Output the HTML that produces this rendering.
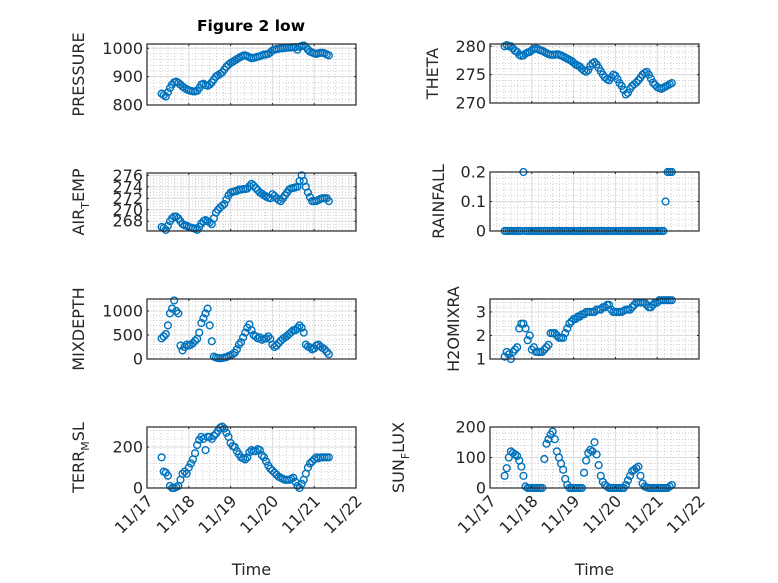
<!DOCTYPE html>
<html><head><meta charset="utf-8"><style>
html,body{margin:0;padding:0;background:#fff;}
svg{display:block;font-family:"DejaVu Sans","Liberation Sans",sans-serif;}
</style></head><body>
<svg id="fig" width="778" height="583" viewBox="0 0 778 583" xmlns="http://www.w3.org/2000/svg">
<rect width="778" height="583" fill="#fff"/>
<text x="251" y="31" text-anchor="middle" font-size="15.5" font-weight="bold" fill="#000">Figure 2 low</text>
</svg>
<script>
const times = [17.35,17.40,17.45,17.50,17.55,17.60,17.65,17.70,17.75,17.80,17.85,17.90,17.95,18.00,18.05,18.10,18.15,18.20,18.25,18.30,18.35,18.40,18.45,18.50,18.55,18.60,18.65,18.70,18.75,18.80,18.85,18.90,18.95,19.00,19.05,19.10,19.15,19.20,19.25,19.30,19.35,19.40,19.45,19.50,19.55,19.60,19.65,19.70,19.75,19.80,19.85,19.90,19.95,20.00,20.05,20.10,20.15,20.20,20.25,20.30,20.35,20.40,20.45,20.50,20.55,20.60,20.65,20.70,20.75,20.80,20.85,20.90,20.95,21.00,21.05,21.10,21.15,21.20,21.25,21.30,21.35];
const pressure = [840,835,830,845,860,872,880,882,878,872,865,860,855,852,850,848,848,850,860,872,875,870,868,872,880,890,900,905,910,915,925,935,942,948,952,957,962,966,970,974,975,972,968,965,966,968,970,972,975,978,978,980,985,992,995,997,998,1000,1000,1001,1002,1002,1003,1003,1004,995,1005,1008,1010,1005,995,988,985,982,980,982,984,984,982,978,975];
const theta = [280,280.2,280,280,279.6,279.2,279,278.5,278.3,278.4,278.7,278.9,279,279.3,279.5,279.6,279.5,279.3,279.2,279,278.8,278.6,278.5,278.5,278.5,278.6,278.5,278.4,278.2,278,277.8,277.6,277.4,277.1,276.8,276.6,276.4,276,275.7,275.5,275.8,276.5,277,277.2,276.8,276.2,275.6,275,274.5,274.2,274,274.5,275,274.8,274.2,273.5,273,272.3,271.5,271.8,272.5,273,273.3,273.6,274,274.5,275,275.3,275.5,275,274.3,273.6,273.2,272.8,272.6,272.5,272.7,272.9,273.1,273.3,273.5];
const airTemp = [267,266.8,266.5,267.2,268,268.5,268.8,268.8,268.5,268,267.5,267.3,267.2,267,266.9,266.8,266.7,266.5,267,267.6,268,268.2,268,267.8,267.5,268.5,269.5,270,270.4,270.7,271,271.8,272.5,273,273.1,273.2,273.3,273.5,273.5,273.6,273.6,273.7,274.1,274.5,274.2,273.8,273.4,273,272.8,272.5,272.3,272.1,272,272.7,272.4,272,271.7,271.5,272,272.5,273,273.5,273.7,273.8,273.9,274,275,276,275,274,273,272.2,271.5,271.5,271.5,271.7,271.9,272,272,272,271.5];
const rainfall = [0,0,0,0,0,0,0,0,0,0.2,0,0,0,0,0,0,0,0,0,0,0,0,0,0,0,0,0,0,0,0,0,0,0,0,0,0,0,0,0,0,0,0,0,0,0,0,0,0,0,0,0,0,0,0,0,0,0,0,0,0,0,0,0,0,0,0,0,0,0,0,0,0,0,0,0,0,0,0.1,0.2,0.2,0.2];
const mixDepth = [430,470,520,700,950,1050,1220,1000,950,280,180,250,300,280,300,330,380,420,550,750,850,950,1050,700,370,50,30,20,15,20,30,40,60,80,100,130,200,300,350,450,550,650,720,600,500,470,430,450,400,420,430,470,420,300,250,280,330,380,420,450,480,520,560,600,600,650,700,650,550,300,260,240,200,220,280,300,260,230,200,150,100];
const h2oMix = [1.1,1.3,1.2,1.0,1.3,1.4,1.5,2.3,2.5,2.5,2.3,1.8,2.0,1.4,1.5,1.3,1.3,1.3,1.3,1.4,1.5,1.6,2.1,2.1,2.1,2.0,1.9,1.9,1.9,2.1,2.3,2.5,2.6,2.7,2.7,2.8,2.8,2.9,2.9,3.0,3.0,3.0,3.0,3.0,3.1,3.1,3.1,3.2,3.2,3.3,3.3,3.1,3.0,3.0,3.0,3.0,3.0,3.05,3.1,3.1,3.1,3.2,3.3,3.4,3.4,3.4,3.4,3.4,3.3,3.2,3.2,3.3,3.4,3.4,3.5,3.5,3.5,3.5,3.5,3.5,3.5];
const terrMsl = [150,80,75,60,10,0,0,5,10,40,70,80,70,100,120,140,170,210,235,250,240,185,250,250,240,255,265,280,295,300,290,270,250,220,205,200,180,165,150,145,140,150,175,185,180,180,190,185,160,150,130,110,95,85,75,65,55,50,45,40,40,40,45,50,30,10,0,20,40,70,100,120,130,140,150,145,150,150,150,150,150];
const sunFlux = [40,65,100,120,115,110,105,90,70,40,5,0,0,0,0,0,0,0,0,95,145,160,175,185,160,120,100,80,60,30,10,0,0,0,0,0,0,0,50,90,115,125,120,150,110,75,40,20,10,5,0,0,0,0,0,0,0,0,10,25,40,55,60,65,70,40,15,5,2,0,0,0,0,0,0,0,0,0,0,5,10];
const xTickLabels = ["11/17","11/18","11/19","11/20","11/21","11/22"];
const xTickValues = [17,18,19,20,21,22];

const NS="http://www.w3.org/2000/svg";
const svg=document.getElementById('fig');
function mk(tag,attrs,parent){const e=document.createElementNS(NS,tag);for(const k in attrs)e.setAttribute(k,attrs[k]);(parent||svg).appendChild(e);return e;}

const panels=[
 {key:'pressure',data:pressure,x0:147,x1:356,y0:44,y1:105,ymin:800,ymax:1015,ticks:[800,900,1000],minor:5,label:['PRESSURE'],lx:84},
 {key:'theta',data:theta,x0:490,x1:699,y0:44,y1:103,ymin:270,ymax:280.4,ticks:[270,275,280],minor:5,label:['THETA'],lx:438},
 {key:'air-temp',data:airTemp,x0:147,x1:356,y0:173,y1:231,ymin:266.3,ymax:276.4,ticks:[268,270,272,274,276],minor:4,label:['AIR','T','EMP'],lx:84},
 {key:'rainfall',data:rainfall,x0:490,x1:699,y0:172,y1:231,ymin:0,ymax:0.2,ticks:[0,0.1,0.2],minor:5,label:['RAINFALL'],lx:444,fmt:v=>v===0?'0':v.toFixed(1)},
 {key:'mixdepth',data:mixDepth,x0:147,x1:356,y0:299,y1:359,ymin:0,ymax:1250,ticks:[0,500,1000],minor:5,label:['MIXDEPTH'],lx:84},
 {key:'h2omixra',data:h2oMix,x0:490,x1:699,y0:299,y1:359,ymin:1,ymax:3.55,ticks:[1,2,3],minor:5,label:['H2OMIXRA'],lx:459},
 {key:'terr-msl',data:terrMsl,x0:147,x1:356,y0:427,y1:488,ymin:0,ymax:298,ticks:[0,200],minor:5,label:['TERR','M','SL'],lx:84},
 {key:'sun-flux',data:sunFlux,x0:490,x1:699,y0:427,y1:488,ymin:0,ymax:200,ticks:[0,100,200],minor:5,label:['SUN','F','LUX'],lx:404}
];

panels.forEach((p,pi)=>{
 const g=mk('g',{});
 
 
 const xs=v=>p.x0+(v-17)/5*(p.x1-p.x0);
 const ys=v=>p.y1-(v-p.ymin)/(p.ymax-p.ymin)*(p.y1-p.y0);
 mk('rect',{x:p.x0,y:p.y0,width:p.x1-p.x0,height:p.y1-p.y0,fill:'#fff'},g);
 for(let d=17;d<22;d++){for(let k=1;k<6;k++){const x=xs(d+k/6);mk('line',{x1:x,x2:x,y1:p.y0,y2:p.y1,stroke:'#b0b0b0','stroke-width':0.6,'stroke-dasharray':'1 2'},g);}}
 const step=p.ticks.length>1?p.ticks[1]-p.ticks[0]:1;
 for(let v=p.ticks[0]-step;v<=p.ymax+step;v+=step/p.minor){
   if(v<=p.ymin+1e-9||v>=p.ymax-1e-9)continue;
   const y=ys(v);mk('line',{x1:p.x0,x2:p.x1,y1:y,y2:y,stroke:'#b0b0b0','stroke-width':0.6,'stroke-dasharray':'1 2'},g);
 }
 xTickValues.forEach(v=>{const x=xs(v);mk('line',{x1:x,x2:x,y1:p.y0,y2:p.y1,stroke:'#dcdcdc','stroke-width':1},g);});
 p.ticks.forEach(v=>{const y=ys(v);mk('line',{x1:p.x0,x2:p.x1,y1:y,y2:y,stroke:'#dcdcdc','stroke-width':1},g);});
 p.data.forEach((v,i)=>{
   const c=mk('circle',{cx:xs(times[i]).toFixed(2),cy:ys(v).toFixed(2),r:3.4,fill:'none',stroke:'#0072BD','stroke-width':1.4},g);
   
   
 });
 mk('rect',{x:p.x0,y:p.y0,width:p.x1-p.x0,height:p.y1-p.y0,fill:'none',stroke:'#262626','stroke-width':1.2},g);
 xTickValues.forEach(v=>{const x=xs(v);mk('line',{x1:x,x2:x,y1:p.y1,y2:p.y1-2,stroke:'#262626'},g);mk('line',{x1:x,x2:x,y1:p.y0,y2:p.y0+2,stroke:'#262626'},g);});
 p.ticks.forEach(v=>{
   const y=ys(v);
   mk('line',{x1:p.x0,x2:p.x0+2,y1:y,y2:y,stroke:'#262626'},g);
   mk('line',{x1:p.x1,x2:p.x1-2,y1:y,y2:y,stroke:'#262626'},g);
   const t=mk('text',{x:p.x0-4,y:y+5.5,'text-anchor':'end','font-size':16,fill:'#262626'},g);
   t.textContent=p.fmt?p.fmt(v):String(v);
   
   
 });
 const ym=(p.y0+p.y1)/2;
 const lt=mk('text',{x:p.lx,y:ym,'text-anchor':'middle','font-size':16,fill:'#262626',transform:`rotate(-90 ${p.lx} ${ym})`},g);
 
 
 if(p.label.length===1){lt.textContent=p.label[0];}
 else{
   const a=mk('tspan',{},lt);a.textContent=p.label[0];
   const b=mk('tspan',{dy:5,'font-size':11},lt);b.textContent=p.label[1];
   const c=mk('tspan',{dy:-5},lt);c.textContent=p.label[2];
 }
 if(pi>=6){
   xTickValues.forEach((v,i)=>{
     const x=xs(v)+7,y=p.y1+14;
     const t=mk('text',{x:x,y:y,'text-anchor':'end','font-size':16,fill:'#262626',transform:`rotate(-45 ${x} ${y})`},g);
     t.textContent=xTickLabels[i];
     
     
   });
   const xt=mk('text',{x:(p.x0+p.x1)/2,y:575,'text-anchor':'middle','font-size':16,fill:'#262626'},g);
   xt.textContent='Time';
   
   
 }
});
</script>
</body></html>
